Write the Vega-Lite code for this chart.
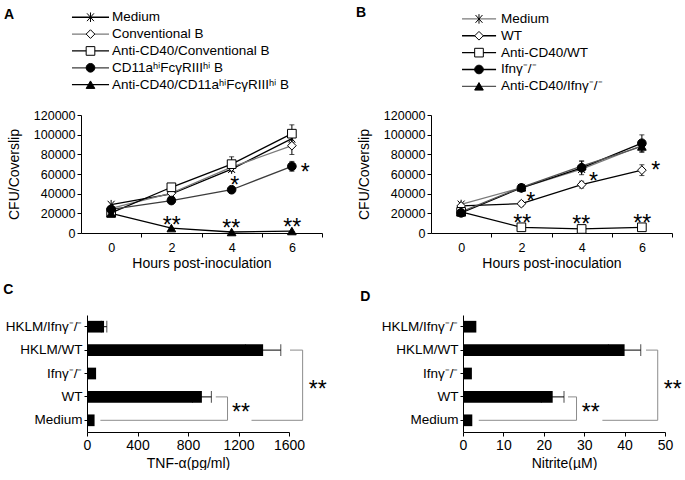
{
  "$schema": "https://vega.github.io/schema/vega-lite/v6.json",
  "padding": {"left": 3, "top": 5, "right": 0, "bottom": 0},
  "background": "white",
  "config": {
    "font": "Liberation Sans",
    "view": {"stroke": null},
    "axis": {"domainColor": "black", "tickColor": "black", "labelColor": "black", "titleColor": "black", "grid": false, "titleFontWeight": "normal", "labelFontSize": 12.5, "titleFontSize": 14, "domainWidth": 1, "tickWidth": 1, "labelFlush": false},
    "title": {"fontSize": 14, "fontWeight": "bold", "anchor": "start", "frame": "bounds", "color": "black"}
  },
  "datasets": {
    "lineA": [
      {"series": "Medium", "t": 0, "v": 28800, "err": 0},
      {"series": "Medium", "t": 2, "v": 39700, "err": 0},
      {"series": "Medium", "t": 4, "v": 65000, "err": 0},
      {"series": "Medium", "t": 6, "v": 96000, "err": 0},
      {"series": "Conventional B", "t": 0, "v": 25000, "err": 0},
      {"series": "Conventional B", "t": 2, "v": 40500, "err": 0},
      {"series": "Conventional B", "t": 4, "v": 67000, "err": 0},
      {"series": "Conventional B", "t": 6, "v": 88800, "err": 9000},
      {"series": "Anti-CD40/Conventional B", "t": 0, "v": 20500, "err": 0},
      {"series": "Anti-CD40/Conventional B", "t": 2, "v": 46500, "err": 2000},
      {"series": "Anti-CD40/Conventional B", "t": 4, "v": 70000, "err": 7500},
      {"series": "Anti-CD40/Conventional B", "t": 6, "v": 101000, "err": 9000},
      {"series": "CD11aʰⁱFcγRIIIʰⁱ B", "t": 0, "v": 24000, "err": 0},
      {"series": "CD11aʰⁱFcγRIIIʰⁱ B", "t": 2, "v": 33000, "err": 1500},
      {"series": "CD11aʰⁱFcγRIIIʰⁱ B", "t": 4, "v": 44000, "err": 3400},
      {"series": "CD11aʰⁱFcγRIIIʰⁱ B", "t": 6, "v": 67800, "err": 5000},
      {"series": "Anti-CD40/CD11aʰⁱFcγRIIIʰⁱ B", "t": 0, "v": 20000, "err": 0},
      {"series": "Anti-CD40/CD11aʰⁱFcγRIIIʰⁱ B", "t": 2, "v": 5000, "err": 0},
      {"series": "Anti-CD40/CD11aʰⁱFcγRIIIʰⁱ B", "t": 4, "v": 1000, "err": 0},
      {"series": "Anti-CD40/CD11aʰⁱFcγRIIIʰⁱ B", "t": 6, "v": 2000, "err": 0}
    ],
    "lineB": [
      {"series": "Medium", "t": 0, "v": 29000, "err": 0},
      {"series": "Medium", "t": 2, "v": 46000, "err": 0},
      {"series": "Medium", "t": 4, "v": 65000, "err": 0},
      {"series": "Medium", "t": 6, "v": 89000, "err": 0},
      {"series": "WT", "t": 0, "v": 27500, "err": 0},
      {"series": "WT", "t": 2, "v": 29800, "err": 2500},
      {"series": "WT", "t": 4, "v": 49200, "err": 3500},
      {"series": "WT", "t": 6, "v": 63900, "err": 5500},
      {"series": "Anti-CD40/WT", "t": 0, "v": 21500, "err": 0},
      {"series": "Anti-CD40/WT", "t": 2, "v": 5800, "err": 0},
      {"series": "Anti-CD40/WT", "t": 4, "v": 4100, "err": 0},
      {"series": "Anti-CD40/WT", "t": 6, "v": 5800, "err": 0},
      {"series": "Ifnγ⁻/⁻", "t": 0, "v": 20500, "err": 0},
      {"series": "Ifnγ⁻/⁻", "t": 2, "v": 45900, "err": 2500},
      {"series": "Ifnγ⁻/⁻", "t": 4, "v": 66300, "err": 7000},
      {"series": "Ifnγ⁻/⁻", "t": 6, "v": 91300, "err": 8500},
      {"series": "Anti-CD40/Ifnγ⁻/⁻", "t": 0, "v": 21500, "err": 0},
      {"series": "Anti-CD40/Ifnγ⁻/⁻", "t": 2, "v": 46500, "err": 0},
      {"series": "Anti-CD40/Ifnγ⁻/⁻", "t": 4, "v": 68000, "err": 5000},
      {"series": "Anti-CD40/Ifnγ⁻/⁻", "t": 6, "v": 88000, "err": 6000}
    ],
    "sigA": [
      {"t": 4.1, "v": 40800, "s": "*"},
      {"t": 6.44, "v": 53700, "s": "*"},
      {"t": 2.01, "v": 100, "s": "**"},
      {"t": 3.99, "v": -3200, "s": "**"},
      {"t": 6.01, "v": -2500, "s": "**"}
    ],
    "sigB": [
      {"t": 2.31, "v": 24100, "s": "*"},
      {"t": 4.39, "v": 44700, "s": "*"},
      {"t": 6.46, "v": 55500, "s": "*"},
      {"t": 2.03, "v": 1900, "s": "**"},
      {"t": 3.99, "v": 900, "s": "**"},
      {"t": 6.01, "v": 1900, "s": "**"}
    ],
    "legA": [
      {"series": "Medium", "row": 1},
      {"series": "Conventional B", "row": 2},
      {"series": "Anti-CD40/Conventional B", "row": 3},
      {"series": "CD11aʰⁱFcγRIIIʰⁱ B", "row": 4},
      {"series": "Anti-CD40/CD11aʰⁱFcγRIIIʰⁱ B", "row": 5}
    ],
    "legB": [
      {"series": "Medium", "row": 1},
      {"series": "WT", "row": 2},
      {"series": "Anti-CD40/WT", "row": 3},
      {"series": "Ifnγ⁻/⁻", "row": 4},
      {"series": "Anti-CD40/Ifnγ⁻/⁻", "row": 5}
    ],
    "barC": [
      {"group": "HKLM/Ifnγ⁻/⁻", "v": 135, "err": 22},
      {"group": "HKLM/WT", "v": 1395, "err": 140},
      {"group": "Ifnγ⁻/⁻", "v": 72, "err": 0},
      {"group": "WT", "v": 910, "err": 75},
      {"group": "Medium", "v": 60, "err": 0}
    ],
    "barD": [
      {"group": "HKLM/Ifnγ⁻/⁻", "v": 3.3, "err": 0},
      {"group": "HKLM/WT", "v": 40, "err": 4},
      {"group": "Ifnγ⁻/⁻", "v": 2.2, "err": 0},
      {"group": "WT", "v": 22.2, "err": 2.8},
      {"group": "Medium", "v": 2.3, "err": 0}
    ],
    "brC": [
      {"xa": 1608, "xb": 1708, "ya": "HKLM/WT", "yb": "HKLM/WT"},
      {"xa": 1708, "xb": 1708, "ya": "HKLM/WT", "yb": "Medium"},
      {"xa": 1708, "xb": 1303, "ya": "Medium", "yb": "Medium"},
      {"xa": 1020, "xb": 1113, "ya": "WT", "yb": "WT"},
      {"xa": 1113, "xb": 1113, "ya": "WT", "yb": "Medium"},
      {"xa": 1113, "xb": 106, "ya": "Medium", "yb": "Medium"}
    ],
    "brD": [
      {"xa": 45.3, "xb": 48.2, "ya": "HKLM/WT", "yb": "HKLM/WT"},
      {"xa": 48.2, "xb": 48.2, "ya": "HKLM/WT", "yb": "Medium"},
      {"xa": 48.2, "xb": 34.5, "ya": "Medium", "yb": "Medium"},
      {"xa": 26, "xb": 28.1, "ya": "WT", "yb": "WT"},
      {"xa": 28.1, "xb": 28.1, "ya": "WT", "yb": "Medium"},
      {"xa": 28.1, "xb": 3.9, "ya": "Medium", "yb": "Medium"}
    ],
    "sigC": [
      {"x": 1828, "y": "WT", "s": "**"},
      {"x": 1219, "y": "Medium", "s": "**"}
    ],
    "sigD": [
      {"x": 51.9, "y": "WT", "s": "**"},
      {"x": 31.6, "y": "Medium", "s": "**"}
    ]
  },
  "columns": 2,
  "bounds": "flush",
  "spacing": {"row": 82, "column": 109},
  "resolve": {"scale": {"shape": "independent", "fill": "independent", "stroke": "independent", "color": "independent"}},
  "concat": [
    {
      "width": 241,
      "height": 118,
      "resolve": {"scale": {"y": "independent"}},
      "layer": [
        {
          "encoding": {
            "x": {"field": "t", "type": "quantitative", "scale": {"domain": [-1, 7], "nice": false, "zero": false}, "axis": {"values": [1, 3, 5, 7], "labelExpr": "'' + (datum.value - 1)", "labelOffset": -30.1, "tickSize": 4, "labelPadding": 4, "title": "Hours post-inoculation", "titlePadding": 3}},
            "y": {"field": "v", "type": "quantitative", "scale": {"domain": [0, 120000], "nice": false}, "axis": {"values": [0, 20000, 40000, 60000, 80000, 100000, 120000], "format": "d", "tickSize": 4, "labelPadding": 2, "title": "CFU/Coverslip", "titlePadding": 12, "labelOverlap": false}}
          },
          "layer": [
            {
              "data": {"name": "lineA"},
              "mark": {"type": "line", "strokeWidth": 1.3},
              "encoding": {
                "stroke": {"field": "series", "type": "nominal", "scale": {"domain": ["Medium", "Conventional B", "Anti-CD40/Conventional B", "CD11aʰⁱFcγRIIIʰⁱ B", "Anti-CD40/CD11aʰⁱFcγRIIIʰⁱ B"], "range": ["black", "#7a7a7a", "black", "#3c3c3c", "black"]}, "legend": null}
              }
            },
            {
              "data": {"name": "lineA"},
              "transform": [{"filter": "datum.err > 0"}],
              "mark": {"type": "errorbar", "ticks": true, "color": "black", "thickness": 1},
              "encoding": {
                "yError": {"field": "err"}
              }
            },
            {
              "data": {"name": "lineA"},
              "mark": {"type": "point", "filled": true, "opacity": 1, "size": 75, "stroke": "black", "strokeWidth": 1},
              "encoding": {
                "shape": {"field": "series", "type": "nominal", "scale": {"domain": ["Medium", "Conventional B", "Anti-CD40/Conventional B", "CD11aʰⁱFcγRIIIʰⁱ B", "Anti-CD40/CD11aʰⁱFcγRIIIʰⁱ B"], "range": ["M-0.8,-0.9L0.8,0.9M-0.8,0.9L0.8,-0.9M0,-1.1V1.1", "diamond", "square", "circle", "triangle-up"]}, "legend": null},
                "fill": {"field": "series", "type": "nominal", "scale": {"domain": ["Medium", "Conventional B", "Anti-CD40/Conventional B", "CD11aʰⁱFcγRIIIʰⁱ B", "Anti-CD40/CD11aʰⁱFcγRIIIʰⁱ B"], "range": ["white", "white", "white", "black", "black"]}, "legend": null}
              }
            },
            {
              "data": {"name": "sigA"},
              "mark": {"type": "text", "fontSize": 23, "baseline": "alphabetic", "align": "center", "color": "black"},
              "encoding": {
                "text": {"field": "s"}
              }
            }
          ]
        },
        {
          "layer": [
            {
              "data": {"name": "legA"},
              "mark": {"type": "rule", "strokeWidth": 1.3},
              "encoding": {
                "x": {"datum": -1.3},
                "x2": {"datum": -0.07},
                "y": {"field": "row", "type": "quantitative", "scale": {"domain": [6.8, 13.8], "reverse": true, "zero": false, "nice": false}, "axis": null},
                "stroke": {"field": "series", "type": "nominal", "legend": null}
              }
            },
            {
              "data": {"name": "legA"},
              "mark": {"type": "point", "filled": true, "opacity": 1, "size": 75, "stroke": "black", "strokeWidth": 1},
              "encoding": {
                "x": {"datum": -0.685},
                "y": {"field": "row", "type": "quantitative", "axis": null},
                "shape": {"field": "series", "type": "nominal", "legend": null},
                "fill": {"field": "series", "type": "nominal", "legend": null}
              }
            },
            {
              "data": {"name": "legA"},
              "mark": {"type": "text", "align": "left", "baseline": "middle", "fontSize": 13.5, "color": "black"},
              "encoding": {
                "x": {"datum": 0.03},
                "y": {"field": "row", "type": "quantitative", "axis": null},
                "text": {"field": "series"}
              }
            },
            {
              "data": {"values": [{"p": "A"}]},
              "mark": {"type": "text", "align": "center", "baseline": "middle", "fontSize": 14, "fontWeight": "bold", "color": "black"},
              "encoding": {
                "x": {"datum": -3.39},
                "y": {"datum": 0.88, "axis": null},
                "text": {"field": "p"}
              }
            }
          ]
        }
      ]
    },
    {
      "width": 241,
      "height": 118,
      "resolve": {"scale": {"y": "independent"}},
      "layer": [
        {
          "encoding": {
            "x": {"field": "t", "type": "quantitative", "scale": {"domain": [-1, 7], "nice": false, "zero": false}, "axis": {"values": [1, 3, 5, 7], "labelExpr": "'' + (datum.value - 1)", "labelOffset": -30.1, "tickSize": 4, "labelPadding": 4, "title": "Hours post-inoculation", "titlePadding": 3}},
            "y": {"field": "v", "type": "quantitative", "scale": {"domain": [0, 120000], "nice": false}, "axis": {"values": [0, 20000, 40000, 60000, 80000, 100000, 120000], "format": "d", "tickSize": 4, "labelPadding": 2, "title": "CFU/Coverslip", "titlePadding": 12, "labelOverlap": false}}
          },
          "layer": [
            {
              "data": {"name": "lineB"},
              "mark": {"type": "line", "strokeWidth": 1.3},
              "encoding": {
                "stroke": {"field": "series", "type": "nominal", "scale": {"domain": ["Medium", "WT", "Anti-CD40/WT", "Ifnγ⁻/⁻", "Anti-CD40/Ifnγ⁻/⁻"], "range": ["#7a7a7a", "black", "black", "black", "#555555"]}, "legend": null}
              }
            },
            {
              "data": {"name": "lineB"},
              "transform": [{"filter": "datum.err > 0"}],
              "mark": {"type": "errorbar", "ticks": true, "color": "black", "thickness": 1},
              "encoding": {
                "yError": {"field": "err"}
              }
            },
            {
              "data": {"name": "lineB"},
              "mark": {"type": "point", "filled": true, "opacity": 1, "size": 75, "stroke": "black", "strokeWidth": 1},
              "encoding": {
                "shape": {"field": "series", "type": "nominal", "scale": {"domain": ["Medium", "WT", "Anti-CD40/WT", "Ifnγ⁻/⁻", "Anti-CD40/Ifnγ⁻/⁻"], "range": ["M-0.8,-0.9L0.8,0.9M-0.8,0.9L0.8,-0.9M0,-1.1V1.1", "diamond", "square", "circle", "triangle-up"]}, "legend": null},
                "fill": {"field": "series", "type": "nominal", "scale": {"domain": ["Medium", "WT", "Anti-CD40/WT", "Ifnγ⁻/⁻", "Anti-CD40/Ifnγ⁻/⁻"], "range": ["white", "white", "white", "black", "black"]}, "legend": null}
              }
            },
            {
              "data": {"name": "sigB"},
              "mark": {"type": "text", "fontSize": 23, "baseline": "alphabetic", "align": "center", "color": "black"},
              "encoding": {
                "text": {"field": "s"}
              }
            }
          ]
        },
        {
          "layer": [
            {
              "data": {"name": "legB"},
              "mark": {"type": "rule", "strokeWidth": 1.3},
              "encoding": {
                "x": {"datum": 0.03},
                "x2": {"datum": 1.16},
                "y": {"field": "row", "type": "quantitative", "scale": {"domain": [6.7, 13.7], "reverse": true, "zero": false, "nice": false}, "axis": null},
                "stroke": {"field": "series", "type": "nominal", "legend": null}
              }
            },
            {
              "data": {"name": "legB"},
              "mark": {"type": "point", "filled": true, "opacity": 1, "size": 75, "stroke": "black", "strokeWidth": 1},
              "encoding": {
                "x": {"datum": 0.593},
                "y": {"field": "row", "type": "quantitative", "axis": null},
                "shape": {"field": "series", "type": "nominal", "legend": null},
                "fill": {"field": "series", "type": "nominal", "legend": null}
              }
            },
            {
              "data": {"name": "legB"},
              "mark": {"type": "text", "align": "left", "baseline": "middle", "fontSize": 13.5, "color": "black"},
              "encoding": {
                "x": {"datum": 1.324},
                "y": {"field": "row", "type": "quantitative", "axis": null},
                "text": {"field": "series"}
              }
            },
            {
              "data": {"values": [{"p": "B"}]},
              "mark": {"type": "text", "align": "center", "baseline": "middle", "fontSize": 14, "fontWeight": "bold", "color": "black"},
              "encoding": {
                "x": {"datum": -3.32},
                "y": {"datum": 0.62, "axis": null},
                "text": {"field": "p"}
              }
            }
          ]
        }
      ]
    },
    {
      "width": 208,
      "height": 117,
      "title": {"text": "C", "offset": 18, "dx": -2},
      "encoding": {
        "y": {"field": "group", "type": "nominal", "scale": {"domain": ["HKLM/Ifnγ⁻/⁻", "HKLM/WT", "Ifnγ⁻/⁻", "WT", "Medium"], "paddingInner": 0.5, "paddingOuter": 0.25}, "axis": {"title": null, "offset": -6, "tickSize": 3, "labelPadding": 2, "labelFontSize": 13.5}},
        "x": {"field": "v", "type": "quantitative", "scale": {"domain": [0, 1600], "range": [6, 208], "nice": false}, "axis": {"values": [0, 400, 800, 1200, 1600], "format": "d", "tickSize": 4, "labelPadding": 2, "labelFontSize": 14, "title": "TNF-α(pg/ml)", "titlePadding": 4}}
      },
      "layer": [
        {
          "data": {"name": "barC"},
          "mark": {"type": "bar", "color": "black"}
        },
        {
          "data": {"name": "barC"},
          "transform": [{"filter": "datum.err > 0"}],
          "mark": {"type": "errorbar", "ticks": true, "color": "black", "thickness": 1},
          "encoding": {
            "xError": {"field": "err"}
          }
        },
        {
          "data": {"name": "brC"},
          "mark": {"type": "rule", "color": "#8c8c8c", "strokeWidth": 1},
          "encoding": {
            "x": {"field": "xa", "type": "quantitative"},
            "x2": {"field": "xb"},
            "y": {"field": "ya", "type": "nominal"},
            "y2": {"field": "yb"}
          }
        },
        {
          "data": {"name": "sigC"},
          "mark": {"type": "text", "fontSize": 23, "baseline": "alphabetic", "align": "center", "color": "black"},
          "encoding": {
            "x": {"field": "x", "type": "quantitative"},
            "y": {"field": "y", "type": "nominal"},
            "text": {"field": "s"}
          }
        }
      ]
    },
    {
      "width": 234,
      "height": 117,
      "title": {"text": "D", "offset": 11, "dx": -21},
      "encoding": {
        "y": {"field": "group", "type": "nominal", "scale": {"domain": ["HKLM/Ifnγ⁻/⁻", "HKLM/WT", "Ifnγ⁻/⁻", "WT", "Medium"], "paddingInner": 0.5, "paddingOuter": 0.25}, "axis": {"title": null, "offset": -32, "tickSize": 3, "labelPadding": 2, "labelFontSize": 13.5}},
        "x": {"field": "v", "type": "quantitative", "scale": {"domain": [0, 50], "range": [32, 234], "nice": false}, "axis": {"values": [0, 10, 20, 30, 40, 50], "format": "d", "tickSize": 4, "labelPadding": 2, "labelFontSize": 14, "title": "Nitrite(µM)", "titlePadding": 4}}
      },
      "layer": [
        {
          "data": {"name": "barD"},
          "mark": {"type": "bar", "color": "black"}
        },
        {
          "data": {"name": "barD"},
          "transform": [{"filter": "datum.err > 0"}],
          "mark": {"type": "errorbar", "ticks": true, "color": "black", "thickness": 1},
          "encoding": {
            "xError": {"field": "err"}
          }
        },
        {
          "data": {"name": "brD"},
          "mark": {"type": "rule", "color": "#8c8c8c", "strokeWidth": 1},
          "encoding": {
            "x": {"field": "xa", "type": "quantitative"},
            "x2": {"field": "xb"},
            "y": {"field": "ya", "type": "nominal"},
            "y2": {"field": "yb"}
          }
        },
        {
          "data": {"name": "sigD"},
          "mark": {"type": "text", "fontSize": 23, "baseline": "alphabetic", "align": "center", "color": "black"},
          "encoding": {
            "x": {"field": "x", "type": "quantitative"},
            "y": {"field": "y", "type": "nominal"},
            "text": {"field": "s"}
          }
        }
      ]
    }
  ]
}
